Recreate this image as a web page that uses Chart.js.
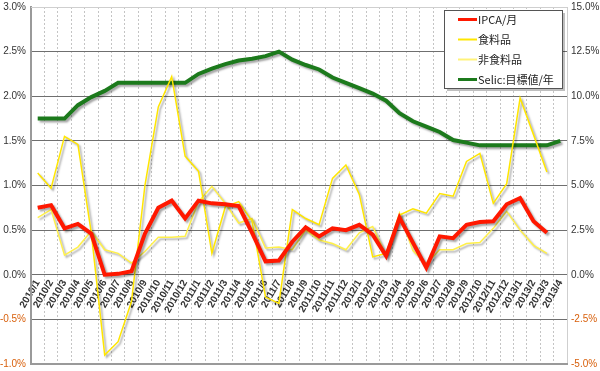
<!DOCTYPE html>
<html>
<head>
<meta charset="utf-8">
<script src="https://cdn.jsdelivr.net/npm/chart.js@4"></script>
<style>
  html, body { margin: 0; padding: 0; background: #fff; }
  #wrap { width: 600px; height: 371px; position: relative; }
</style>
</head>
<body>
<div id="wrap"><canvas id="chart"></canvas></div>
<script>
// Months 2010/1 .. 2013/4
const months = [
  '2010/1','2010/2','2010/3','2010/4','2010/5','2010/6','2010/7','2010/8','2010/9','2010/10','2010/11','2010/12',
  '2011/1','2011/2','2011/3','2011/4','2011/5','2011/6','2011/7','2011/8','2011/9','2011/10','2011/11','2011/12',
  '2012/1','2012/2','2012/3','2012/4','2012/5','2012/6','2012/7','2012/8','2012/9','2012/10','2012/11','2012/12',
  '2013/1','2013/2','2013/3','2013/4'
];

// IPCA monthly change (%), left axis
const ipca = [0.75, 0.78, 0.52, 0.57, 0.46, 0.00, 0.01, 0.04, 0.46, 0.75, 0.83, 0.63,
              0.83, 0.80, 0.79, 0.77, 0.47, 0.15, 0.16, 0.37, 0.53, 0.43, 0.52, 0.50,
              0.56, 0.45, 0.21, 0.64, 0.36, 0.08, 0.43, 0.41, 0.56, 0.59, 0.60, 0.79,
              0.86, 0.60, 0.47];

// Food (%), left axis
const food = [1.14, 0.97, 1.55, 1.46, 0.47, -0.90, -0.75, -0.30, 1.00, 1.88, 2.22, 1.33,
              1.16, 0.24, 0.76, 0.82, 0.60, -0.25, -0.32, 0.73, 0.63, 0.56, 1.08, 1.23,
              0.90, 0.20, 0.24, 0.67, 0.74, 0.69, 0.91, 0.88, 1.27, 1.36, 0.80, 1.02,
              1.98, 1.57, 1.15];

// Non-food (%), left axis
const nonFood = [0.64, 0.73, 0.22, 0.31, 0.49, 0.28, 0.24, 0.13, 0.26, 0.42, 0.42, 0.43,
                 0.82, 0.99, 0.80, 0.58, 0.63, 0.30, 0.31, 0.28, 0.50, 0.39, 0.35, 0.28,
                 0.47, 0.54, 0.22, 0.69, 0.27, 0.12, 0.28, 0.28, 0.35, 0.36, 0.52, 0.71,
                 0.50, 0.33, 0.24];

// Selic target (% per year), right axis
const selic = [8.75, 8.75, 8.75, 9.5, 9.95, 10.3, 10.75, 10.75, 10.75, 10.75, 10.75, 10.75,
               11.25, 11.55, 11.8, 12.0, 12.1, 12.25, 12.5, 12.05, 11.75, 11.5, 11.05, 10.75,
               10.45, 10.15, 9.75, 9.05, 8.6, 8.3, 8.0, 7.55, 7.4, 7.25, 7.25, 7.25,
               7.25, 7.25, 7.25, 7.5];

const negColor = '#d8600c';
const tickFont = { family: 'Liberation Sans', size: 10 };

// Drop shadow under each line
const shadowPlugin = {
  id: 'lineShadow',
  beforeDatasetDraw(chart) {
    const ctx = chart.ctx;
    ctx.save();
    ctx.shadowColor = 'rgba(0,0,0,0.35)';
    ctx.shadowOffsetX = 2;
    ctx.shadowOffsetY = 2;
    ctx.shadowBlur = 2;
  },
  afterDatasetDraw(chart) {
    chart.ctx.restore();
  }
};

// Frame round the plot area
const framePlugin = {
  id: 'frame',
  beforeDatasetsDraw(chart) {
    const { ctx, chartArea: a } = chart;
    ctx.save();
    ctx.strokeStyle = '#cfcfcf';
    ctx.lineWidth = 1;
    ctx.beginPath();
    ctx.moveTo(a.left, a.top + 0.5);
    ctx.lineTo(a.right + 0.5, a.top + 0.5);
    ctx.lineTo(a.right + 0.5, a.bottom);
    ctx.stroke();
    ctx.strokeStyle = '#9a9a9a';
    ctx.lineWidth = 2;
    ctx.beginPath();
    ctx.moveTo(a.left, a.bottom);
    ctx.lineTo(a.right + 1, a.bottom);
    ctx.stroke();
    ctx.restore();
  }
};

// Boxed legend in the upper right
const legendBox = {
  id: 'legendBox',
  afterDraw(chart) {
    const ctx = chart.ctx;
    const x = 444, y = 10, w = 118, h = 78;
    ctx.save();
    ctx.fillStyle = 'rgba(0,0,0,0.25)';
    ctx.fillRect(x + 3, y + 3, w, h);
    ctx.fillStyle = '#fff';
    ctx.fillRect(x, y, w, h);
    ctx.strokeStyle = '#555';
    ctx.lineWidth = 1;
    ctx.strokeRect(x + 0.5, y + 0.5, w, h);
    ctx.font = '11px "Noto Sans CJK JP"';
    ctx.textBaseline = 'middle';
    chart.data.datasets.forEach((ds, i) => {
      const ry = 19.5 + i * 20;
      ctx.strokeStyle = ds.legendColor || ds.borderColor;
      ctx.lineWidth = ds.borderWidth > 2 ? 3 : 2;
      ctx.beginPath();
      ctx.moveTo(458, ry);
      ctx.lineTo(477, ry);
      ctx.stroke();
      ctx.fillStyle = '#222';
      ctx.fillText(ds.label, 478, ry);
    });
    ctx.restore();
  }
};

// let the plot run to the edges set by layout padding
function noLabelPadding(s) {
  s.paddingTop = 0;
  s.paddingBottom = 0;
}

new Chart(document.getElementById('chart'), {
  type: 'line',
  data: {
    labels: months,
    datasets: [
      { label: 'IPCA/月', data: ipca, borderColor: '#ff1800', borderWidth: 4, yAxisID: 'y' },
      { label: '食料品', data: food, borderColor: '#ffe600', borderWidth: 1.5, yAxisID: 'y' },
      { label: '非食料品', data: nonFood, borderColor: '#fff04a', legendColor: '#fff27a', borderWidth: 1.5, yAxisID: 'y' },
      { label: 'Selic:目標値/年', data: selic, borderColor: '#1c7a1c', borderWidth: 4, yAxisID: 'y1' }
    ]
  },
  options: {
    responsive: true,
    maintainAspectRatio: false,
    animation: false,
    layout: { padding: { top: 7, bottom: 7, left: 0, right: 0 } },
    elements: {
      point: { radius: 0 },
      line: { tension: 0, fill: false, borderJoinStyle: 'miter' }
    },
    plugins: {
      legend: { display: false },
      tooltip: { enabled: false }
    },
    scales: {
      x: {
        position: { y: 0 },
        offset: true,
        grid: { offset: true, color: '#c4c4c4', lineWidth: 1, drawTicks: false },
        border: { display: false, dash: [2, 2] },
        ticks: {
          autoSkip: false,
          minRotation: 60,
          maxRotation: 60,
          padding: 3,
          color: '#333',
          font: { family: 'Liberation Sans', size: 10, weight: 'bold' }
        }
      },
      y: {
        position: 'left',
        min: -1,
        max: 3,
        afterFit(s) { s.width = 31; noLabelPadding(s); },
        grid: {
          drawTicks: false,
          color: ctx => ctx.tick.value === 3 ? '#d0d0d0' : '#6f6f6f'
        },
        border: { color: '#9a9a9a', width: 2 },
        ticks: {
          stepSize: 0.5,
          padding: 5,
          font: tickFont,
          color: ctx => ctx.tick.value < 0 ? negColor : '#333',
          callback: v => v.toFixed(1) + '%'
        }
      },
      y1: {
        position: 'right',
        min: -5,
        max: 15,
        afterFit(s) { s.width = 33; noLabelPadding(s); },
        grid: { display: false, drawTicks: false },
        border: { display: false },
        ticks: {
          stepSize: 2.5,
          padding: 4,
          font: tickFont,
          color: ctx => ctx.tick.value < 0 ? negColor : '#333',
          callback: v => v.toFixed(1) + '%'
        }
      }
    }
  },
  plugins: [shadowPlugin, framePlugin, legendBox]
});
</script>
</body>
</html>
